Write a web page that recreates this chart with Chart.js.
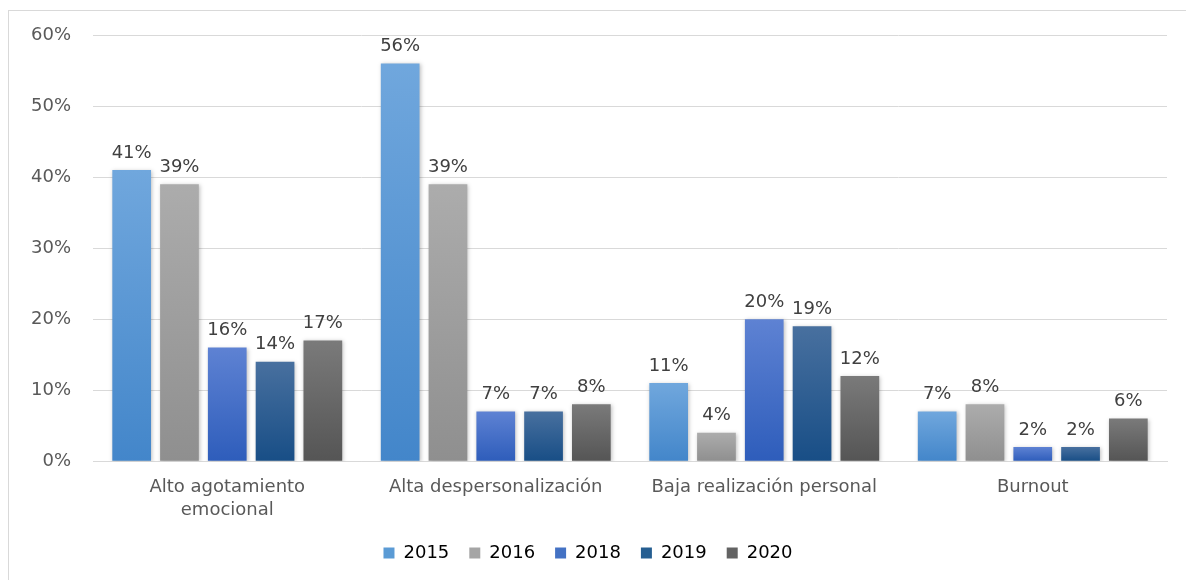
<!DOCTYPE html>
<html>
<head>
<meta charset="utf-8">
<script src="https://cdn.jsdelivr.net/npm/chart.js@4"></script>
<style>
  html, body { margin: 0; padding: 0; background: #fff; }
  #frame {
    position: absolute; left: 8px; top: 10px;
    width: 1178px; height: 570px;
    border-left: 1px solid #d9d9d9; border-top: 1px solid #d9d9d9;
  }
  #chart { display: block; }
</style>
</head>
<body>
<div id="frame"><canvas id="chart" width="1177" height="569"></canvas></div>
<script>
// Chart data
const categories = [
  ['Alto agotamiento', 'emocional'],
  'Alta despersonalización',
  'Baja realización personal',
  'Burnout'
];
const years = ['2015', '2016', '2018', '2019', '2020'];
const values2015 = [41, 56, 11, 7];
const values2016 = [39, 39, 4, 8];
const values2018 = [16, 7, 20, 2];
const values2019 = [14, 7, 19, 2];
const values2020 = [17, 8, 12, 6];
const yTicks = [0, 10, 20, 30, 40, 50, 60];

// top / bottom colours of each bar gradient
const colorPairs = [
  ['#70a7dd', '#4386ca'],
  ['#acacac', '#8f8f8f'],
  ['#5e82d3', '#2e5dbb'],
  ['#48709f', '#184e86'],
  ['#7a7a7a', '#555555']
];
const solid = ['#5b9bd5', '#a5a5a5', '#4472c4', '#255e91', '#636363'];

const FONT = 'DejaVu Sans';

// gradient runs over each bar's own height
function gradientFor(i) {
  return function(context) {
    const chart = context.chart;
    const yScale = chart.scales.y;
    if (!chart.chartArea || !yScale || context.raw === undefined) return solid[i];
    const top = yScale.getPixelForValue(context.raw);
    const bottom = yScale.getPixelForValue(0);
    const g = chart.ctx.createLinearGradient(0, top, 0, bottom);
    g.addColorStop(0, colorPairs[i][0]);
    g.addColorStop(1, colorPairs[i][1]);
    return g;
  };
}

// Simple value labels above each bar
const valueLabels = {
  id: 'valueLabels',
  afterDatasetsDraw(chart) {
    const ctx = chart.ctx;
    ctx.save();
    ctx.font = '18px "' + FONT + '"';
    ctx.fillStyle = '#404040';
    ctx.textAlign = 'center';
    ctx.textBaseline = 'bottom';
    chart.data.datasets.forEach((ds, i) => {
      chart.getDatasetMeta(i).data.forEach((bar, j) => {
        ctx.fillText(ds.data[j] + '%', bar.x, bar.y - 8);
      });
    });
    ctx.restore();
  }
};

// soft shadow behind the bars
const barShadow = {
  id: 'barShadow',
  beforeDatasetsDraw(chart) {
    chart.ctx.save();
    chart.ctx.shadowColor = 'rgba(0,0,0,0.25)';
    chart.ctx.shadowBlur = 4;
    chart.ctx.shadowOffsetX = 1;
    chart.ctx.shadowOffsetY = 1;
  },
  afterDatasetsDraw(chart) {
    chart.ctx.restore();
  }
};

// legend padding also sets the gap between items; keep the wide gap
// but take some of the vertical space back
const LEGEND_TRIM = 4;
const legendTrim = {
  id: 'legendTrim',
  beforeLayout(chart) {
    const legend = chart.legend;
    if (!legend || legend._trimmed) return;
    legend._trimmed = true;
    const fit = legend.fit;
    legend.fit = function() {
      fit.call(this);
      this.height -= LEGEND_TRIM;
    };
    const draw = legend.draw;
    legend.draw = function() {
      this.ctx.save();
      this.ctx.translate(0, -LEGEND_TRIM);
      draw.call(this);
      this.ctx.restore();
    };
  }
};

const allValues = [values2015, values2016, values2018, values2019, values2020];

const ctx = document.getElementById('chart').getContext('2d');
new Chart(ctx, {
  type: 'bar',
  data: {
    labels: categories,
    datasets: years.map((y, i) => ({
      label: y,
      data: allValues[i],
      backgroundColor: gradientFor(i),
      borderWidth: 0,
      categoryPercentage: 0.89,
      barPercentage: 0.81
    }))
  },
  plugins: [barShadow, valueLabels, legendTrim],
  options: {
    responsive: false,
    animation: false,
    layout: { padding: { top: 24, right: 19, left: 0, bottom: 8 } },
    scales: {
      x: {
        grid: { display: false },
        border: { color: '#d9d9d9' },
        ticks: { color: '#595959', font: { family: FONT, size: 18, lineHeight: 1.3 }, padding: 6 }
      },
      y: {
        min: 0,
        max: 60,
        afterBuildTicks(axis) { axis.ticks = yTicks.map(v => ({ value: v })); },
        // tick padding is only wanted sideways, not above the top label
        afterFit(axis) { axis.paddingTop = 0; },
        grid: { color: '#d9d9d9', drawTicks: false },
        border: { display: false },
        ticks: {
          color: '#595959',
          font: { family: FONT, size: 18 },
          padding: 22,
          callback: v => v + '%'
        }
      }
    },
    plugins: {
      legend: {
        position: 'bottom',
        labels: {
          color: '#595959',
          font: { family: FONT, size: 18, lineHeight: 1.0 },
          boxWidth: 11,
          boxHeight: 11,
          padding: 20,
          generateLabels(chart) {
            return chart.data.datasets.map((ds, i) => ({
              text: ds.label,
              fillStyle: solid[i],
              strokeStyle: solid[i],
              lineWidth: 0,
              datasetIndex: i
            }));
          }
        }
      },
      tooltip: { enabled: false }
    }
  }
});
</script>
</body>
</html>
